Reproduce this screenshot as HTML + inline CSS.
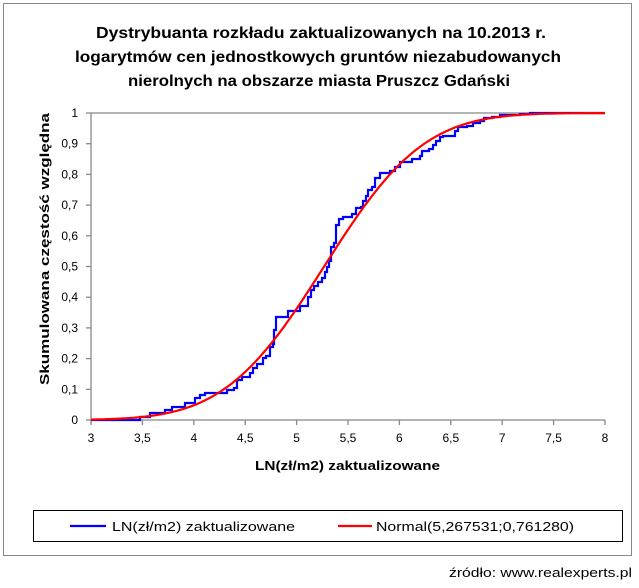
<!DOCTYPE html>
<html><head><meta charset="utf-8"><style>
body{margin:0;background:#fff;width:639px;height:583px;overflow:hidden;font-family:"Liberation Sans",sans-serif}
</style></head><body>
<svg width="639" height="583" xmlns="http://www.w3.org/2000/svg" font-family="Liberation Sans, sans-serif">
<rect x="3.5" y="3.5" width="628" height="552" fill="#fff" stroke="#888" stroke-width="1"/>
<g font-weight="bold" font-size="16" fill="#000">
<text x="96" y="38" textLength="450" lengthAdjust="spacingAndGlyphs">Dystrybuanta rozkładu zaktualizowanych na 10.2013 r.</text>
<text x="75" y="62" textLength="486" lengthAdjust="spacingAndGlyphs">logarytmów cen jednostkowych gruntów niezabudowanych</text>
<text x="128" y="86" textLength="382" lengthAdjust="spacingAndGlyphs">nierolnych na obszarze miasta Pruszcz Gdański</text>
</g>
<g stroke="#888" stroke-width="1.3">
<line x1="91" y1="113" x2="91" y2="420"/>
<line x1="91" y1="420" x2="605" y2="420"/>
<line x1="91" y1="113" x2="605" y2="113"/>
</g>
<g id="ticks" stroke="#888" stroke-width="1.3"></g>
<g id="labels" font-size="12" fill="#000"></g>
<path fill="none" stroke="#0000ff" stroke-width="2.2" d="M91,420 H140 V417 H150 V413 H165 V410 H172 V407 H185 V403 H195 V398 H200 V395 H205 V393 H227 V390 H234 V388 H237 V380 H242 V377 H250 V373 H253 V368 H257 V364 H263 V358 H266 V356 H270 V347 H273 V344 H274 V330 H276 V317 H288 V311 H300 V306 H308 V297 H311 V290 H314 V286 H318 V282 H322 V278 H325 V272 H327 V267 H329 V261 H331 V247 H334 V243 H336 V225 H339 V219 H343 V217 H352 V214 H356 V208 H361 V207 H363 V201 H366 V196 H368 V190 H372 V187 H375 V178 H380 V173 H390 V171 H395 V167 H400 V162 H412 V159 H420 V156 H422 V151 H429 V149 H433 V145 H436 V141 H440 V137 H443 V136 H455 V131 H458 V127 H467 V126 H473 V123 H480 V121 H484 V118 H492 V117 H500 V115 H520 V114 H530 V113 H605"/>
<path id="red" fill="none" stroke="#ff0000" stroke-width="2.2"/>
<text x="255" y="470" font-size="13" font-weight="bold" textLength="185" lengthAdjust="spacingAndGlyphs">LN(zł/m2)  zaktualizowane</text>
<text transform="translate(49,385) rotate(-90)" font-size="13" font-weight="bold" textLength="272" lengthAdjust="spacingAndGlyphs">Skumulowana  częstość względna</text>
<rect x="33.5" y="510.5" width="589" height="31" fill="#fff" stroke="#000" stroke-width="1"/>
<line x1="70" y1="526" x2="106" y2="526" stroke="#0000ff" stroke-width="2.2"/>
<text x="112" y="531" font-size="13" textLength="183" lengthAdjust="spacingAndGlyphs">LN(zł/m2) zaktualizowane</text>
<line x1="338" y1="526" x2="372" y2="526" stroke="#ff0000" stroke-width="2.2"/>
<text x="376" y="531" font-size="13" textLength="198" lengthAdjust="spacingAndGlyphs">Normal(5,267531;0,761280)</text>
<text x="449" y="577" font-size="13" textLength="183" lengthAdjust="spacingAndGlyphs">źródło: www.realexperts.pl</text>
</svg>
<script>
var ns="http://www.w3.org/2000/svg";
var tk=document.getElementById("ticks"),lb=document.getElementById("labels");
function X(v){return 91+(v-3)*102.8}function Y(p){return 420-p*307}
for(var i=0;i<=10;i++){var v=3+i*0.5,x=X(v);var l=document.createElementNS(ns,"line");l.setAttribute("x1",x);l.setAttribute("x2",x);l.setAttribute("y1",420);l.setAttribute("y2",425);tk.appendChild(l);
var t=document.createElementNS(ns,"text");t.setAttribute("x",x);t.setAttribute("y",442);t.setAttribute("text-anchor","middle");t.textContent=(v%1==0?v:String(v).replace(".",","));lb.appendChild(t);}
for(var i=0;i<=10;i++){var y=Y(i/10);var l=document.createElementNS(ns,"line");l.setAttribute("x1",86);l.setAttribute("x2",91);l.setAttribute("y1",y);l.setAttribute("y2",y);tk.appendChild(l);
var t=document.createElementNS(ns,"text");t.setAttribute("x",78);t.setAttribute("y",y+4);t.setAttribute("text-anchor","end");t.textContent=(i==0?"0":i==10?"1":"0,"+i);lb.appendChild(t);}
function erf(x){var s=x<0?-1:1;x=Math.abs(x);var t=1/(1+0.3275911*x);var y=1-(((((1.061405429*t-1.453152027)*t)+1.421413741)*t-0.284496736)*t+0.254829592)*t*Math.exp(-x*x);return s*y;}
var d="";for(var v=3;v<=8.001;v+=0.02){var p=0.5*(1+erf((v-5.267531)/(0.76128*Math.SQRT2)));d+=(d?"L":"M")+X(v).toFixed(1)+","+Y(p).toFixed(1);}
document.getElementById("red").setAttribute("d",d);
</script>
</body></html>
